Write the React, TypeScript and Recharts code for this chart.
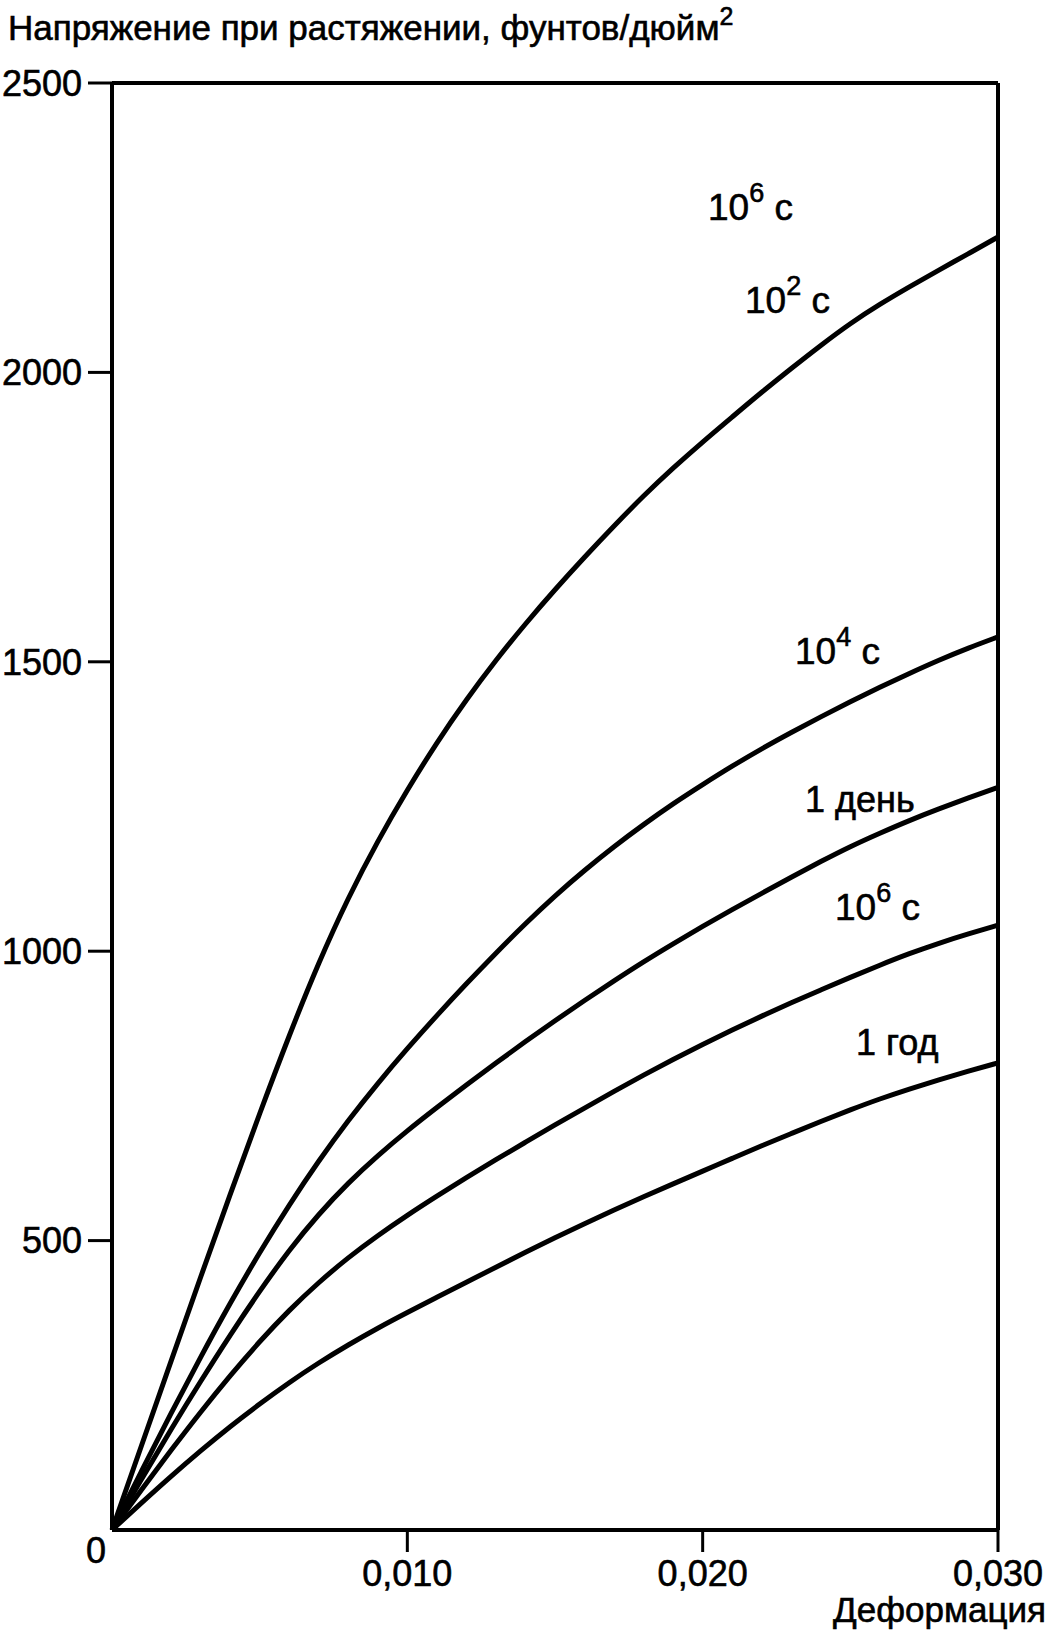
import React from "react";
import { LineChart, Line, XAxis, YAxis, ReferenceLine } from "recharts";

// strain (deformation), step 0.001
const strain = [
  0, 0.001, 0.002, 0.003, 0.004, 0.005, 0.006, 0.007, 0.008, 0.009, 0.01,
  0.011, 0.012, 0.013, 0.014, 0.015, 0.016, 0.017, 0.018, 0.019, 0.02,
  0.021, 0.022, 0.023, 0.024, 0.025, 0.026, 0.027, 0.028, 0.029, 0.03,
];

// tensile stress, psi
const stress1e2s = [
  0, 146, 292, 437, 580, 720, 855, 981, 1093, 1191, 1279,
  1361, 1435, 1503, 1566, 1625, 1681, 1735, 1787, 1835, 1880,
  1923, 1966, 2007, 2047, 2085, 2118, 2148, 2177, 2205, 2234,
];
const stress1e4s = [
  0, 102, 202, 299, 392, 480, 562, 638, 708, 772, 832,
  889, 944, 997, 1048, 1096, 1140, 1181, 1219, 1255, 1288,
  1320, 1350, 1378, 1405, 1431, 1456, 1480, 1503, 1524, 1543,
];
const stressDay = [
  0, 88, 174, 257, 337, 413, 484, 546, 600, 647, 690,
  730, 769, 807, 844, 880, 915, 949, 982, 1013, 1043,
  1072, 1100, 1128, 1155, 1181, 1204, 1226, 1246, 1265, 1283,
];
const stress1e6s = [
  0, 70, 138, 204, 267, 326, 380, 428, 471, 509, 544,
  577, 609, 640, 670, 700, 729, 758, 786, 813, 839,
  864, 888, 911, 933, 955, 976, 996, 1014, 1030, 1045,
];
const stressYear = [
  0, 47, 93, 137, 179, 218, 255, 289, 320, 349, 376,
  402, 428, 454, 480, 505, 529, 553, 576, 598, 620,
  642, 664, 685, 706, 726, 745, 762, 778, 793, 807,
];

const xTicks = [0.01, 0.02, 0.03];
const yTicks = [500, 1000, 1500, 2000, 2500];

const FONT = "'Liberation Sans', Arial, Helvetica, sans-serif";
// thin outline to get the heavier look of the original lettering
const TEXT_STYLE = { fill: "#000", stroke: "#000", strokeWidth: 0.6 };

const data = strain.map((s, i) => ({
  s,
  a: stress1e2s[i],
  b: stress1e4s[i],
  c: stressDay[i],
  d: stress1e6s[i],
  e: stressYear[i],
}));

function PowLabel({ x, y, exp }: { x: number; y: number; exp: string }) {
  return (
    <text x={x} y={y} fontFamily={FONT} fontSize={37} {...TEXT_STYLE}>
      10
      <tspan dy={-18} fontSize={27}>{exp}</tspan>
      <tspan dy={18}> с</tspan>
    </text>
  );
}

export default function App() {
  return (
    <div style={{ position: "absolute", left: 0, top: 0, width: 1047, height: 1634, background: "#fff" }}>
      <LineChart
        width={1047}
        height={1634}
        data={data}
        margin={{ top: 83, right: 49, bottom: 0, left: 0 }}
      >
        <XAxis
          dataKey="s"
          type="number"
          domain={[0, 0.03]}
          ticks={xTicks}
          height={104}
          tickFormatter={(v: number) => v.toFixed(3).replace(".", ",")}
          axisLine={{ stroke: "#000", strokeWidth: 4 }}
          tickLine={{ stroke: "#000", strokeWidth: 3 }}
          tickSize={22}
          tickMargin={8}
          tick={{ ...TEXT_STYLE, fontSize: 36, fontFamily: FONT }}
        />
        <YAxis
          type="number"
          domain={[0, 2500]}
          ticks={yTicks}
          width={112}
          axisLine={{ stroke: "#000", strokeWidth: 4 }}
          tickLine={{ stroke: "#000", strokeWidth: 3 }}
          tickSize={24}
          tickMargin={6}
          tick={{ ...TEXT_STYLE, fontSize: 36, fontFamily: FONT }}
        />
        <ReferenceLine y={2500} stroke="#000" strokeWidth={4} />
        <ReferenceLine x={0.03} stroke="#000" strokeWidth={4} />
        <Line type="basis" dataKey="a" stroke="#000" strokeWidth={5} dot={false} isAnimationActive={false} />
        <Line type="basis" dataKey="b" stroke="#000" strokeWidth={5} dot={false} isAnimationActive={false} />
        <Line type="basis" dataKey="c" stroke="#000" strokeWidth={5} dot={false} isAnimationActive={false} />
        <Line type="basis" dataKey="d" stroke="#000" strokeWidth={5} dot={false} isAnimationActive={false} />
        <Line type="basis" dataKey="e" stroke="#000" strokeWidth={5} dot={false} isAnimationActive={false} />

        <text x={8} y={40} fontFamily={FONT} fontSize={35} {...TEXT_STYLE}>
          Напряжение при растяжении, фунтов/дюйм
          <tspan dy={-15} fontSize={25}>2</tspan>
        </text>
        <text x={96} y={1563} textAnchor="middle" fontFamily={FONT} fontSize={36} {...TEXT_STYLE}>0</text>
        <text x={1046} y={1622} textAnchor="end" fontFamily={FONT} fontSize={35} {...TEXT_STYLE}>Деформация</text>

        <PowLabel x={708} y={220} exp="6" />
        <PowLabel x={745} y={313} exp="2" />
        <PowLabel x={795} y={664} exp="4" />
        <text x={805} y={812} fontFamily={FONT} fontSize={36} {...TEXT_STYLE}>1 день</text>
        <PowLabel x={835} y={920} exp="6" />
        <text x={856} y={1055} fontFamily={FONT} fontSize={36} {...TEXT_STYLE}>1 год</text>
      </LineChart>
    </div>
  );
}
